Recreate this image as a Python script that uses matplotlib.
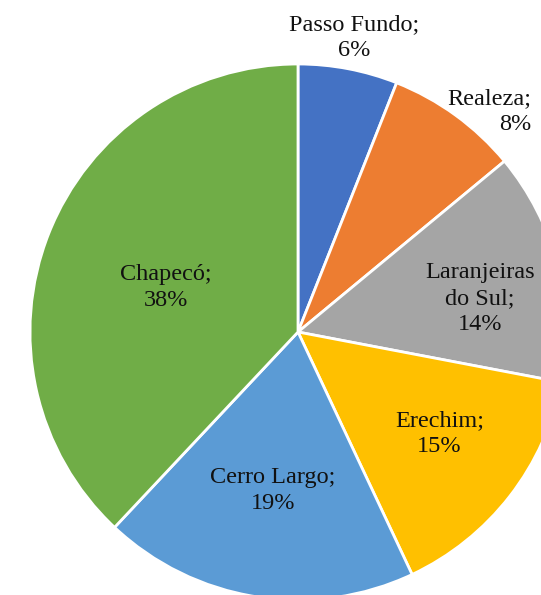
import numpy as np
import matplotlib
matplotlib.use("Agg")
import matplotlib.pyplot as plt

cities = ["Passo Fundo", "Realeza", "Laranjeiras\ndo Sul", "Erechim", "Cerro Largo", "Chapecó"]
values = [6, 8, 14, 15, 19, 38]
colors = ["#4472C4", "#ED7D31", "#A5A5A5", "#FFC000", "#5B9BD5", "#70AD47"]
label_r = [1.12, 1.09, 0.69, 0.65, 0.60, 0.52]
label_dang = [0, -5, -4, 2, 0, 3]
label_align = ["center", "right", "center", "center", "center", "center"]

W, H = 541, 595
cx, cy, R = 298, 332, 268

fig = plt.figure(figsize=(W / 100, H / 100), dpi=100)
ax = fig.add_axes([0, 0, 1, 1])
wedges, _ = ax.pie(values, colors=colors, startangle=90, counterclock=False,
                   radius=1, wedgeprops=dict(edgecolor="white", linewidth=2.0))
ax.set_xlim(-cx / R, (W - cx) / R)
ax.set_ylim(-(H - cy) / R, cy / R)
ax.set_aspect("auto")
ax.axis("off")

total = sum(values)
for w, name, v, r, da, al in zip(wedges, cities, values, label_r, label_dang, label_align):
    ang = np.deg2rad((w.theta1 + w.theta2) / 2 + da)
    ax.text(r * np.cos(ang), r * np.sin(ang), f"{name};\n{round(100 * v / total)}%",
            ha="center", va="center", multialignment=al, fontsize=17.5,
            family="Liberation Serif", color="#111111", linespacing=1.3)

fig.savefig("out.png", dpi=100)
